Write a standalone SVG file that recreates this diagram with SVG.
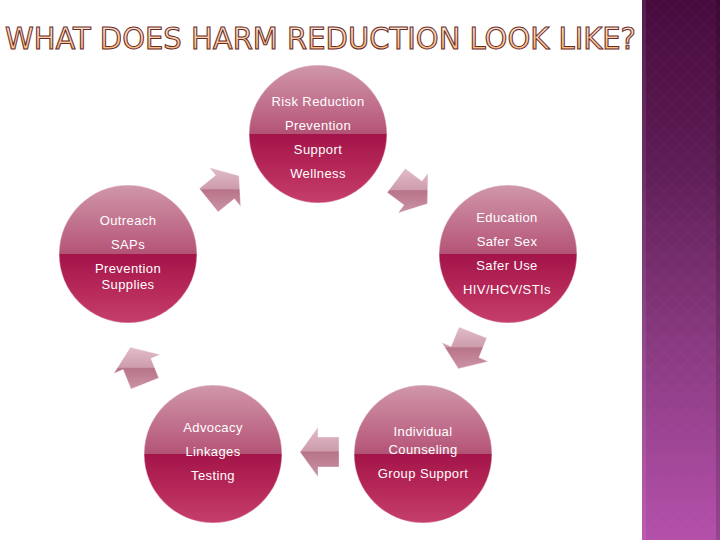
<svg xmlns="http://www.w3.org/2000/svg" width="720" height="540" viewBox="0 0 720 540">
<defs>
<linearGradient id="bar" x1="0" y1="0" x2="0" y2="1">
<stop offset="0" stop-color="#480b3e"/>
<stop offset="0.3" stop-color="#5d1d55"/>
<stop offset="0.65" stop-color="#8b3b82"/>
<stop offset="1" stop-color="#b450aa"/>
</linearGradient>
<pattern id="diam" width="16" height="16" patternUnits="userSpaceOnUse">
<path d="M8 0 L16 8 L8 16 L0 8 Z" fill="none" stroke="#ffffff" stroke-opacity="0.025" stroke-width="1"/>
</pattern>
<linearGradient id="title" x1="0" y1="0" x2="0" y2="1">
<stop offset="0" stop-color="#fff3e6"/>
<stop offset="1" stop-color="#f6b067"/>
</linearGradient>
<linearGradient id="ball" x1="0" y1="0" x2="0" y2="1">
<stop offset="0" stop-color="#d097aa"/>
<stop offset="0.45" stop-color="#b85a7c"/>
<stop offset="0.5" stop-color="#b15274"/>
<stop offset="0.5" stop-color="#a3154a"/>
<stop offset="0.75" stop-color="#b62858"/>
<stop offset="1" stop-color="#c53f6b"/>
</linearGradient>
<linearGradient id="arw" x1="0" y1="0" x2="0" y2="1">
<stop offset="0" stop-color="#e2bcc9"/>
<stop offset="0.48" stop-color="#cd9cad"/>
<stop offset="0.5" stop-color="#b87488"/>
<stop offset="1" stop-color="#cc93a6"/>
</linearGradient>
<style>
.ball{fill:url(#ball);stroke:#ffffff;stroke-opacity:0.35;stroke-width:1.5}
.lbl{font-family:"Liberation Sans",Arial,sans-serif;font-size:13px;letter-spacing:0.4px;fill:#ffffff;text-anchor:middle}
.arrow{fill:url(#arw);stroke:#ffffff;stroke-opacity:0.4;stroke-width:0.8}
</style>
</defs>
<rect width="720" height="540" fill="#ffffff"/>
<rect x="642" y="0" width="78" height="540" fill="url(#bar)"/>
<rect x="642" y="0" width="78" height="540" fill="url(#diam)"/>
<rect x="642" y="0" width="4" height="540" fill="#ffffff" fill-opacity="0.08"/>
<rect x="716" y="0" width="4" height="540" fill="#000000" fill-opacity="0.15"/>
<text x="5" y="48.5" textLength="631" lengthAdjust="spacingAndGlyphs" font-family="'DejaVu Sans','Liberation Sans',sans-serif" font-stretch="condensed" font-weight="normal" font-size="31" fill="url(#title)" stroke="#6a2a2a" stroke-width="1">WHAT DOES HARM REDUCTION LOOK LIKE?</text>
<g id="connectors">
<polygon class="arrow" points="239.0,175.7 240.7,206.4 234.4,198.7 218.1,211.9 199.3,188.5 215.6,175.3 209.3,167.6"/>
<polygon class="arrow" points="427.4,203.8 398.0,213.0 404.0,205.0 387.2,192.4 405.2,168.4 422.0,181.0 428.0,173.0"/>
<polygon class="arrow" points="458.3,368.7 441.8,342.6 451.1,346.4 459.0,326.9 486.8,338.1 478.9,357.6 488.2,361.4"/>
<polygon class="arrow" points="300,452 318,427 318,437 339,437 339,467 318,467 318,477"/>
<polygon class="arrow" points="130.3,347.3 160.2,354.6 150.9,358.4 158.8,377.9 131.0,389.1 123.1,369.6 113.8,373.4"/>
</g>
<g id="node-top">
<circle class="ball" cx="318" cy="134" r="69"/>
<text class="lbl" x="318" y="105.5">Risk Reduction</text>
<text class="lbl" x="318" y="129.5">Prevention</text>
<text class="lbl" x="318" y="153.5">Support</text>
<text class="lbl" x="318" y="177.5">Wellness</text>
</g>
<g id="node-right">
<circle class="ball" cx="508" cy="254" r="69"/>
<text class="lbl" x="507" y="221.5">Education</text>
<text class="lbl" x="507" y="245.5">Safer Sex</text>
<text class="lbl" x="507" y="269.5">Safer Use</text>
<text class="lbl" x="507" y="293.5">HIV/HCV/STIs</text>
</g>
<g id="node-bottom-right">
<circle class="ball" cx="423" cy="454" r="69"/>
<text class="lbl" x="423" y="436">Individual</text>
<text class="lbl" x="423" y="454">Counseling</text>
<text class="lbl" x="423" y="478">Group Support</text>
</g>
<g id="node-bottom-left">
<circle class="ball" cx="213" cy="454" r="69"/>
<text class="lbl" x="213" y="432">Advocacy</text>
<text class="lbl" x="213" y="456">Linkages</text>
<text class="lbl" x="213" y="480">Testing</text>
</g>
<g id="node-left">
<circle class="ball" cx="128" cy="254" r="69"/>
<text class="lbl" x="128" y="224.5">Outreach</text>
<text class="lbl" x="128" y="248.5">SAPs</text>
<text class="lbl" x="128" y="272.5">Prevention</text>
<text class="lbl" x="128" y="289">Supplies</text>
</g>
</svg>
